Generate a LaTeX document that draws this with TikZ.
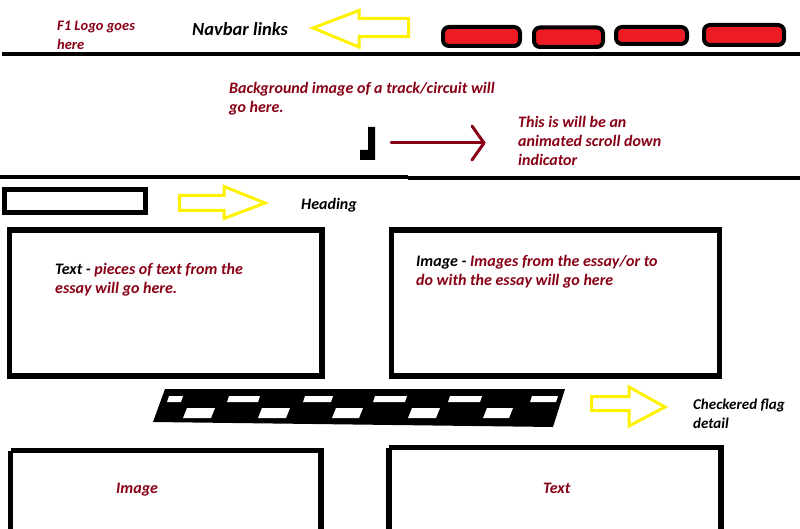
\documentclass[tikz,border=0pt]{standalone}
\usepackage{fontspec}
\setmainfont{Carlito}
\definecolor{note}{RGB}{136,0,21}
\definecolor{hilite}{RGB}{255,242,0}
\definecolor{btnred}{RGB}{237,28,36}
\begin{document}
\begin{tikzpicture}[x=1pt,y=-1pt,
  rule/.style={line width=4.5pt},
  panel/.style={draw=black,line width=5.5pt},
  pointer/.style={draw=hilite,line width=3pt,line join=miter},
  navbtn/.style={draw=black,fill=btnred,line width=4pt,rounded corners=6pt},
  label/.style={inner sep=0pt,font=\bfseries\itshape\fontsize{#1}{19}\selectfont,align=left},
  label/.default=16,
  redlabel/.style={label=#1,text=note},
  redlabel/.default=16]
\useasboundingbox (0,0) rectangle (800,529);
\fill[white] (0,0) rectangle (800,529);

% ---- navbar ----
\node[redlabel=14.5,anchor=north west] (logo) at (57,20.5) {F1 Logo goes\\here};
\node[label=18.5,anchor=base west] (navlinks) at (192,36) {Navbar links};
\draw[pointer] (313,28) -- (359,10.5) -- (359,18.5) -- (408.5,18.5) -- (408.5,36.5)
  -- (359,36.5) -- (359,47) -- cycle;
\draw[navbtn] (443,27) rectangle (520,46);
\draw[navbtn] (534,27.5) rectangle (603,47);
\draw[navbtn] (616,27) rectangle (687,44);
\draw[navbtn] (704,25) rectangle (784,45);
\draw[rule] (2,54) -- (800,54);

% ---- hero area ----
\node[redlabel,anchor=north west] (bg) at (229,82) {Background image of a track/circuit will\\go here.};
\fill (368,127) -- (375,127) -- (375,160) -- (360,160) -- (360,150) -- (368,150) -- cycle;
\coordinate (scrollA) at (391,143);
\coordinate (scrollB) at (484,143);
\draw[note,line width=3pt,line cap=round] (scrollA) -- (scrollB);
\draw[note,line width=3pt,line cap=round,line join=round] (472,126) -- (scrollB) -- (472,160);
\node[redlabel,anchor=north west] (scrollnote) at (518,116) {This is will be an\\animated scroll down\\indicator};
\draw[line width=4pt] (0,177) -- (408,177);
\draw[line width=4pt] (408,178.5) -- (800,178.5);

% ---- heading row ----
\draw[panel,line width=5pt] (4.5,189.5) rectangle (145.5,212.5);
\draw[pointer] (179.5,195.5) -- (224,195.5) -- (224,186.5) -- (265,203) -- (224,218.5)
  -- (224,210.5) -- (179.5,210.5) -- cycle;
\node[label=16,anchor=base west] (heading) at (301,209.5) {Heading};

% ---- content boxes ----
\draw[panel] (9.5,230) rectangle (322,376);
\node[label,anchor=north west] (textnote) at (55,263.5) {Text - \textcolor{note}{pieces of text from the}\\\textcolor{note}{essay will go here.}};
\draw[panel] (391.5,230) rectangle (719.5,376);
\node[label,anchor=north west] (imgnote) at (416,255) {Image - \textcolor{note}{Images from the essay/or to}\\\textcolor{note}{do with the essay will go here}};

% ---- checkered flag strip ----
\fill (165,389) -- (565,389) -- (553,427) -- (153,422) -- cycle;
\foreach \a/\b in {167/183,227/260,303/333,373/407,448/482,530/558}
  \fill[white] (\a+2,396) -- (\b,396) -- (\b-2,402) -- (\a,402) -- cycle;
\foreach \a/\b in {183/215,258/290,332/363,408/440,483/513}
  \fill[white] (\a+4,408) -- (\b,408) -- (\b-4,418) -- (\a,418) -- cycle;
\draw[pointer] (591.5,396.5) -- (629,396.5) -- (629,387) -- (665,407) -- (629,426)
  -- (629,410.5) -- (591.5,410.5) -- cycle;
\node[label=15,anchor=north west] (flagnote) at (693,399) {Checkered flag\\detail};

% ---- lower boxes ----
\draw[panel] (10.5,450.5) -- (10.5,535) (10.5,450.5) -- (321,450.5) -- (321,535);
\node[redlabel=16,anchor=base west] (lowimg) at (116,493) {Image};
\draw[panel] (389,447.5) -- (389,535) (389,447.5) -- (721,447.5) -- (721,535);
\node[redlabel=16,anchor=base west] (lowtext) at (543,493) {Text};
\end{tikzpicture}
\end{document}
